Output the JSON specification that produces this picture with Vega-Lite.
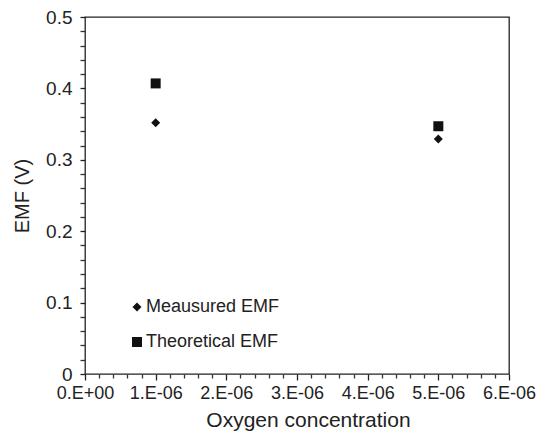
{
  "$schema": "https://vega.github.io/schema/vega-lite/v6.json",
  "width": 424,
  "height": 357,
  "autosize": {"type": "none"},
  "padding": {"left": 85, "top": 17, "right": 32, "bottom": 65},
  "background": "white",
  "config": {
    "font": "Liberation Sans",
    "view": {"stroke": "#222", "strokeWidth": 1.3},
    "axis": {"grid": false, "labelColor": "#222", "titleColor": "#222", "titleFontWeight": "normal", "labelFont": "Liberation Sans", "titleFont": "Liberation Sans", "labelOverlap": false, "labelFlush": false},
    "legend": {"labelFont": "Liberation Sans"}
  },
  "data": {
    "values": [
      {"conc": 1e-6, "emf": 0.352, "series": "Meausured EMF"},
      {"conc": 5e-6, "emf": 0.329, "series": "Meausured EMF"},
      {"conc": 1e-6, "emf": 0.407, "series": "Theoretical EMF"},
      {"conc": 5e-6, "emf": 0.347, "series": "Theoretical EMF"}
    ]
  },
  "layer": [
    {
      "mark": {"type": "point", "opacity": 0},
      "encoding": {
        "x": {
          "field": "conc", "type": "quantitative",
          "scale": {"domain": [0, 6e-6], "nice": false, "zero": true},
          "axis": {"orient": "bottom", "values": [2e-7, 4e-7, 6e-7, 8e-7, 1.2e-6, 1.4e-6, 1.6e-6, 1.8e-6, 2.2e-6, 2.4e-6, 2.6e-6, 2.8e-6, 3.2e-6, 3.4e-6, 3.6e-6, 3.8e-6, 4.2e-6, 4.4e-6, 4.6e-6, 4.8e-6, 5.2e-6, 5.4e-6, 5.6e-6, 5.8e-6], "labels": false, "title": null, "domain": false, "ticks": true, "tickSize": 4, "tickColor": "#333", "tickWidth": 1.3}
        },
        "y": {
          "field": "emf", "type": "quantitative",
          "scale": {"domain": [0, 0.5], "nice": false},
          "axis": {"orient": "left", "values": [0.02, 0.04, 0.06, 0.08, 0.12, 0.14, 0.16, 0.18, 0.22, 0.24, 0.26, 0.28, 0.32, 0.34, 0.36, 0.38, 0.42, 0.44, 0.46, 0.48], "labels": false, "title": null, "domain": false, "ticks": true, "tickSize": 5, "tickColor": "#333", "tickWidth": 1.3}
        }
      }
    },
    {
      "mark": {"type": "point", "filled": true, "opacity": 1, "color": "#111"},
      "encoding": {
        "x": {
          "field": "conc", "type": "quantitative",
          "axis": {
            "orient": "bottom",
            "values": [0, 1e-6, 2e-6, 3e-6, 4e-6, 5e-6, 6e-6],
            "labelExpr": "datum.value == 0 ? '0.E+00' : round(datum.value * 1e6) + '.E-06'",
            "labelFontSize": 18, "domain": false, "ticks": true, "tickSize": 6, "tickColor": "#222", "tickWidth": 1.3, "labelPadding": 4,
            "title": "Oxygen concentration", "titleFontSize": 21, "titlePadding": 7, "titleX": 223
          }
        },
        "y": {
          "field": "emf", "type": "quantitative",
          "axis": {
            "orient": "left",
            "values": [0, 0.1, 0.2, 0.3, 0.4, 0.5],
            "format": ".1~f",
            "labelFontSize": 19, "domain": false, "ticks": true, "tickSize": 5, "tickColor": "#222", "tickWidth": 1.3, "labelPadding": 8,
            "title": "EMF (V)", "titleFontSize": 20, "titlePadding": 13
          }
        },
        "shape": {
          "field": "series", "type": "nominal",
          "scale": {"domain": ["Meausured EMF", "Theoretical EMF"], "range": ["diamond", "square"]},
          "legend": {
            "orient": "none", "legendX": 43, "legendY": 281, "title": null,
            "labelFontSize": 18, "labelColor": "#222", "rowPadding": 17, "padding": 0, "labelOffset": 0
          }
        },
        "size": {
          "field": "series", "type": "nominal",
          "scale": {"domain": ["Meausured EMF", "Theoretical EMF"], "range": [81, 100]},
          "legend": {
            "orient": "none", "legendX": 43, "legendY": 281, "title": null,
            "labelFontSize": 18, "labelColor": "#222", "rowPadding": 17, "padding": 0, "labelOffset": 0
          }
        }
      }
    }
  ],
  "resolve": {"axis": {"x": "independent", "y": "independent"}}
}
